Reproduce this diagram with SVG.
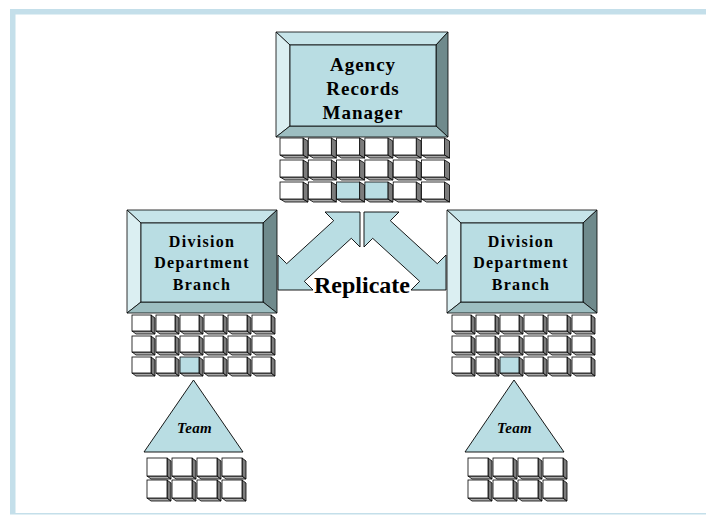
<svg xmlns="http://www.w3.org/2000/svg" width="706" height="515" viewBox="0 0 706 515">
  <style>
    .edge { stroke: #000; stroke-width: 0.8; stroke-linejoin: miter; }
    .face { fill: #b9dde3; }
    .bev-t { fill: #c6e4e9; }
    .bev-l { fill: #dbeff2; }
    .bev-r { fill: #6f8a8c; }
    .bev-b { fill: #9dbec1; }
    .front { fill: #ffffff; }
    .front.hl { fill: #b9dde3; }
    .side-r { fill: #7c7c7c; }
    .side-b { fill: #a8a8a8; }
    .arrow { fill: #b9dde3; stroke: #000; stroke-width: 0.9; stroke-linejoin: miter; }
    .tri { fill: #b9dde3; stroke: #000; stroke-width: 0.9; }
    .title { font-family: "Liberation Serif", "Times New Roman", serif; font-weight: bold; fill: #000; text-anchor: middle; }
    .big { font-size: 19px; letter-spacing: 1px; }
    .mid { font-size: 16px; letter-spacing: 1.3px; }
    .team { font-size: 15px; font-style: italic; letter-spacing: 0.3px; }
    .rep { font-size: 24px; }
  </style>
  <defs>
    <!-- record cells: white front, dark right face, grey under face -->
    <g id="cellL">
      <polygon class="side-b edge" points="0,17 23,17 28,20 5,20"/>
      <polygon class="side-r edge" points="23,0 28,3 28,20 23,17"/>
      <rect class="front edge" x="0" y="0" width="23" height="17"/>
    </g>
    <g id="cellLh">
      <polygon class="side-b edge" points="0,17 23,17 28,20 5,20"/>
      <polygon class="side-r edge" points="23,0 28,3 28,20 23,17"/>
      <rect class="front hl edge" x="0" y="0" width="23" height="17"/>
    </g>
    <g id="cellM">
      <polygon class="side-b edge" points="0,16 19,16 23,19 4,19"/>
      <polygon class="side-r edge" points="19,0 23,3 23,19 19,16"/>
      <rect class="front edge" x="0" y="0" width="19" height="16"/>
    </g>
    <g id="cellMh">
      <polygon class="side-b edge" points="0,16 19,16 23,19 4,19"/>
      <polygon class="side-r edge" points="19,0 23,3 23,19 19,16"/>
      <rect class="front hl edge" x="0" y="0" width="19" height="16"/>
    </g>
    <g id="cellS">
      <polygon class="side-b edge" points="0,18 20,18 24,21 4,21"/>
      <polygon class="side-r edge" points="20,0 24,3 24,21 20,18"/>
      <rect class="front edge" x="0" y="0" width="20" height="18"/>
    </g>
  </defs>

  <!-- page frame -->
  <g id="frame" fill="#c4dfea">
    <rect x="10" y="9" width="696" height="5.5"/>
    <rect x="10" y="9" width="5.5" height="505"/>
    <rect x="10" y="513" width="696" height="1.5"/>
  </g>

  <!-- replication arrows -->
  <g id="connectors">
    <polygon class="arrow" points="360,212 325,212 333.7,220.7 286.7,263.7 278,255 278,290 313,290 304.3,281.3 351.3,238.3 360,247"/>
    <polygon class="arrow" points="364,212 399,212 390.3,220.7 437.3,263.7 446,255 446,290 411,290 419.7,281.3 372.7,238.3 364,247"/>
  </g>
  <text class="title rep" x="362" y="293">Replicate</text>

  <!-- agency level -->
  <g id="agency">
    <g id="agency-cells">
      <use href="#cellL" x="280" y="138"/><use href="#cellL" x="308.3" y="138"/><use href="#cellL" x="336.6" y="138"/><use href="#cellL" x="364.9" y="138"/><use href="#cellL" x="393.2" y="138"/><use href="#cellL" x="421.5" y="138"/>
      <use href="#cellL" x="280" y="160"/><use href="#cellL" x="308.3" y="160"/><use href="#cellL" x="336.6" y="160"/><use href="#cellL" x="364.9" y="160"/><use href="#cellL" x="393.2" y="160"/><use href="#cellL" x="421.5" y="160"/>
      <use href="#cellL" x="280" y="182"/><use href="#cellL" x="308.3" y="182"/><use href="#cellLh" x="336.6" y="182"/><use href="#cellLh" x="364.9" y="182"/><use href="#cellL" x="393.2" y="182"/><use href="#cellL" x="421.5" y="182"/>
    </g>
    <polygon class="bev-t edge" points="276,32 448,32 436,45 290,45"/>
    <polygon class="bev-l edge" points="276,32 290,45 290,126 276,137"/>
    <polygon class="bev-r edge" points="448,32 448,137 436,126 436,45"/>
    <polygon class="bev-b edge" points="276,137 290,126 436,126 448,137"/>
    <rect class="face edge" x="290" y="45" width="146" height="81"/>
    <text class="title big" x="363" y="71">Agency</text>
    <text class="title big" x="363" y="95">Records</text>
    <text class="title big" x="363" y="118.5">Manager</text>
  </g>

  <!-- left division -->
  <g id="division-left">
    <g id="division-left-cells">
      <use href="#cellM" x="132" y="315"/><use href="#cellM" x="156" y="315"/><use href="#cellM" x="180" y="315"/><use href="#cellM" x="204" y="315"/><use href="#cellM" x="228" y="315"/><use href="#cellM" x="252" y="315"/>
      <use href="#cellM" x="132" y="336"/><use href="#cellM" x="156" y="336"/><use href="#cellM" x="180" y="336"/><use href="#cellM" x="204" y="336"/><use href="#cellM" x="228" y="336"/><use href="#cellM" x="252" y="336"/>
      <use href="#cellM" x="132" y="357"/><use href="#cellM" x="156" y="357"/><use href="#cellMh" x="180" y="357"/><use href="#cellM" x="204" y="357"/><use href="#cellM" x="228" y="357"/><use href="#cellM" x="252" y="357"/>
    </g>
    <polygon class="bev-t edge" points="127,210 277,210 263,223 141,223"/>
    <polygon class="bev-l edge" points="127,210 141,223 141,302 127,313"/>
    <polygon class="bev-r edge" points="277,210 277,313 263,302 263,223"/>
    <polygon class="bev-b edge" points="127,313 141,302 263,302 277,313"/>
    <rect class="face edge" x="141" y="223" width="122" height="79"/>
    <text class="title mid" x="202" y="246.5">Division</text>
    <text class="title mid" x="202" y="268">Department</text>
    <text class="title mid" x="202" y="290">Branch</text>
  </g>

  <!-- right division -->
  <g id="division-right">
    <g id="division-right-cells">
      <use href="#cellM" x="452" y="315"/><use href="#cellM" x="476" y="315"/><use href="#cellM" x="500" y="315"/><use href="#cellM" x="524" y="315"/><use href="#cellM" x="548" y="315"/><use href="#cellM" x="572" y="315"/>
      <use href="#cellM" x="452" y="336"/><use href="#cellM" x="476" y="336"/><use href="#cellM" x="500" y="336"/><use href="#cellM" x="524" y="336"/><use href="#cellM" x="548" y="336"/><use href="#cellM" x="572" y="336"/>
      <use href="#cellM" x="452" y="357"/><use href="#cellM" x="476" y="357"/><use href="#cellMh" x="500" y="357"/><use href="#cellM" x="524" y="357"/><use href="#cellM" x="548" y="357"/><use href="#cellM" x="572" y="357"/>
    </g>
    <polygon class="bev-t edge" points="447,210 597,210 583,223 461,223"/>
    <polygon class="bev-l edge" points="447,210 461,223 461,302 447,313"/>
    <polygon class="bev-r edge" points="597,210 597,313 583,302 583,223"/>
    <polygon class="bev-b edge" points="447,313 461,302 583,302 597,313"/>
    <rect class="face edge" x="461" y="223" width="122" height="79"/>
    <text class="title mid" x="521" y="246.5">Division</text>
    <text class="title mid" x="521" y="268">Department</text>
    <text class="title mid" x="521" y="290">Branch</text>
  </g>

  <!-- left team -->
  <g id="team-left">
    <g id="team-left-cells">
      <use href="#cellS" x="147" y="458"/><use href="#cellS" x="172" y="458"/><use href="#cellS" x="197" y="458"/><use href="#cellS" x="222" y="458"/>
      <use href="#cellS" x="147" y="480"/><use href="#cellS" x="172" y="480"/><use href="#cellS" x="197" y="480"/><use href="#cellS" x="222" y="480"/>
    </g>
    <polygon class="tri" points="193.5,380 144,452 243,452"/>
    <text class="title team" x="194.5" y="433">Team</text>
  </g>

  <!-- right team -->
  <g id="team-right">
    <g id="team-right-cells">
      <use href="#cellS" x="468" y="458"/><use href="#cellS" x="493" y="458"/><use href="#cellS" x="518" y="458"/><use href="#cellS" x="543" y="458"/>
      <use href="#cellS" x="468" y="480"/><use href="#cellS" x="493" y="480"/><use href="#cellS" x="518" y="480"/><use href="#cellS" x="543" y="480"/>
    </g>
    <polygon class="tri" points="514,380 465,452 564,452"/>
    <text class="title team" x="514.5" y="433">Team</text>
  </g>
</svg>
